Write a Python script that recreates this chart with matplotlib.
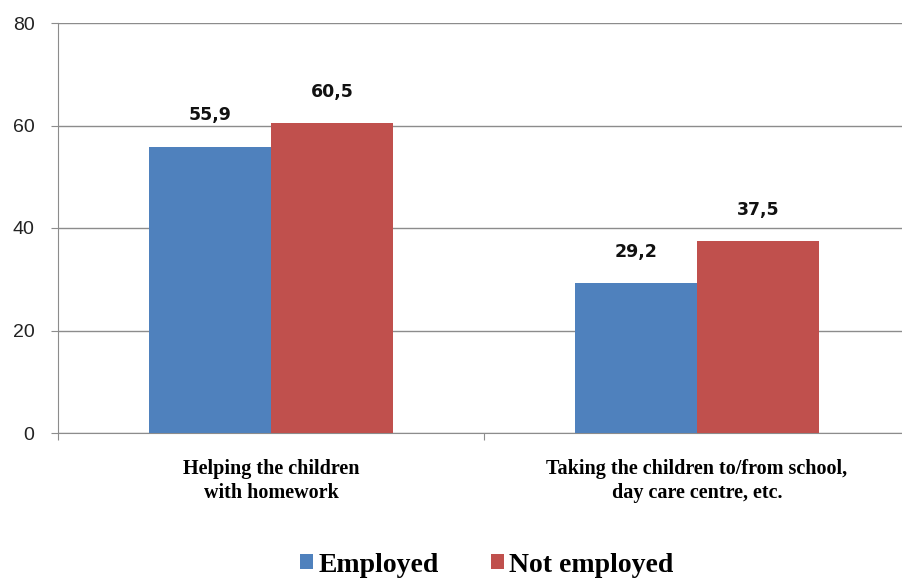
import matplotlib.pyplot as plt
import numpy as np

categories = ["Helping the children\nwith homework",
              "Taking the children to/from school,\nday care centre, etc."]
employed = [55.9, 29.2]
not_employed = [60.5, 37.5]
series_names = ["Employed", "Not employed"]
yticks = [0, 20, 40, 60, 80]

blue = "#4f81bd"
red = "#c0504d"

fig = plt.figure(figsize=(9.02, 5.81), dpi=100)
ax = fig.add_axes([58 / 902, 1 - 433 / 581, 852 / 902, 410 / 581])

x = np.arange(len(categories))
w = 0.286
b1 = ax.bar(x - w / 2, employed, w, color=blue, label=series_names[0], zorder=3)
b2 = ax.bar(x + w / 2, not_employed, w, color=red, label=series_names[1], zorder=3)

for bars, vals in ((b1, employed), (b2, not_employed)):
    for bar, v in zip(bars, vals):
        ax.text(bar.get_x() + bar.get_width() / 2, v + 4.3, f"{v:.1f}".replace(".", ","),
                ha="center", va="bottom", fontsize=12.5, fontweight="bold",
                family="DejaVu Sans", color="#111111")

ax.set_xlim(-0.5, 1.5)
ax.set_ylim(0, 80)
ax.set_yticks(yticks)
ax.set_yticklabels([str(t) for t in yticks], fontsize=14, color="#222222",
                   family="Liberation Sans")
ax.yaxis.grid(True, color="#8c8c8c", linewidth=1, zorder=0)
ax.tick_params(axis="y", length=5, color="#8c8c8c", pad=12)

# group separators on the x axis, labels placed under the groups
ax.set_xticks([-0.5, 0.5, 1.5])
ax.set_xticklabels([])
ax.tick_params(axis="x", length=5, color="#8c8c8c")
for xi, lab in zip(x, categories):
    ax.text(xi, -5.0, lab, ha="center", va="top", fontsize=14.5, fontweight="bold",
            family="Liberation Serif", linespacing=1.3)

for s in ("top", "right"):
    ax.spines[s].set_visible(False)
for s in ("left", "bottom"):
    ax.spines[s].set_color("#8c8c8c")

fig.legend(handles=[b1, b2], labels=series_names, loc="center",
           bbox_to_anchor=(487 / 902, 1 - 565 / 581), ncol=2, frameon=False,
           prop={"family": "Liberation Serif", "weight": "bold", "size": 20},
           handlelength=0.45, handleheight=0.45, handletextpad=0.2, columnspacing=1.9)

fig.savefig("out.png", dpi=100)
